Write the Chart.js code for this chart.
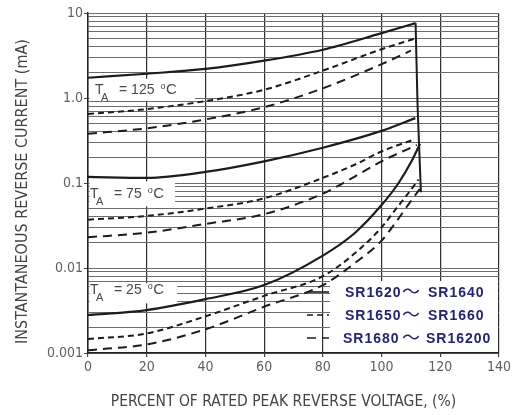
<!DOCTYPE html>
<html>
<head>
<meta charset="utf-8">
<script src="https://cdn.jsdelivr.net/npm/chart.js@4.4.1/dist/chart.umd.min.js"></script>
<style>
  html, body { margin: 0; padding: 0; background: #fff; }
  #wrap { width: 513px; height: 415px; }
</style>
</head>
<body>
<div id="wrap"><canvas id="c" width="513" height="415"></canvas></div>
<script>
// Reverse leakage current vs. percent of rated peak reverse voltage.

// --- axes ---
const xTicks = [0, 20, 40, 60, 80, 100, 120, 140];
const yDecades = [0.001, 0.01, 0.1, 1, 10];
const yTickLabels = ['0.001', '0.01', '0.1', '1.0', '10'];
const xTitle = 'PERCENT OF RATED PEAK REVERSE VOLTAGE, (%)';
const yTitle = 'INSTANTANEOUS REVERSE CURRENT (mA)';

// --- TA = 125 °C ---
const xSolid125 = [0, 20, 40, 60, 80, 100, 111.6];
const ySolid125 = [1.73, 1.93, 2.2, 2.75, 3.7, 5.8, 7.6];
const xDash125  = [0, 20, 40, 60, 80, 100, 111.4];
const yDash125  = [0.65, 0.74, 0.92, 1.25, 2.1, 3.75, 5.0];
const xLong125  = [0, 20, 40, 60, 80, 100, 110];
const yLong125  = [0.38, 0.44, 0.56, 0.78, 1.3, 2.5, 3.6];

// --- TA = 75 °C ---
const xSolid75 = [0, 20, 40, 60, 80, 100, 111.5];
const ySolid75 = [0.118, 0.115, 0.135, 0.18, 0.26, 0.41, 0.58];
const xDash75  = [0, 20, 40, 60, 80, 91, 100, 110.5];
const yDash75  = [0.037, 0.041, 0.05, 0.066, 0.115, 0.165, 0.235, 0.32];
const xLong75  = [0, 20, 40, 60, 80, 91, 100, 112];
const yLong75  = [0.023, 0.026, 0.033, 0.043, 0.075, 0.12, 0.18, 0.28];

// --- TA = 25 °C ---
const xSolid25 = [0, 20, 40, 60, 80, 91, 100, 105.8, 110.2, 113.1];
const ySolid25 = [0.0028, 0.0032, 0.0043, 0.0063, 0.014, 0.026, 0.055, 0.1, 0.18, 0.29];
const xDash25  = [0, 20, 40, 60, 80, 91, 100, 105, 109, 112.6];
const yDash25  = [0.00146, 0.0017, 0.0027, 0.0047, 0.008, 0.015, 0.03, 0.05, 0.075, 0.11];
const xLong25  = [0, 20, 40, 60, 80, 91, 100, 105, 109, 113];
const yLong25  = [0.00108, 0.00126, 0.0019, 0.0035, 0.0063, 0.0115, 0.021, 0.035, 0.055, 0.085];

// --- breakdown edge ---
const xBreak = [111.6, 112.2, 112.8, 113.4];
const yBreak = [7.6, 1.0, 0.27, 0.078];

// --- annotations ---
const tempValues = ['125', '75', '25'];
const tempAnchorX = [2.4, 0.7, 0.7];
const tempAnchorY = [1.12, 0.066, 0.0049];
const legendFrom = ['SR1620', 'SR1650', 'SR1680'];
const legendTo   = ['SR1640', 'SR1660', 'SR16200'];

const NARROW = "'Liberation Sans Narrow', 'DejaVu Sans Condensed', 'Liberation Sans', sans-serif";
const INK = '#1c1c1c';
const SOLID = [], SHORT = [6, 4], LONG = [9, 6];
const LEGEND_DASH = [SOLID, SHORT, LONG];

function series(xs, ys, dash, width) {
  return {
    data: xs.map((x, i) => ({ x, y: ys[i] })),
    borderColor: INK,
    borderWidth: width || 2,
    borderDash: dash,
    pointRadius: 0,
    fill: false,
    cubicInterpolationMode: 'monotone'
  };
}

// minor log grid: 1..9 within each decade, plus the top edge
const yGridValues = [];
for (let d = 0; d < yDecades.length - 1; d++) {
  for (let m = 1; m <= 9; m++) yGridValues.push(+(m * yDecades[d]).toPrecision(3));
}
yGridValues.push(yDecades[yDecades.length - 1]);

function decadeIndex(v) {
  return yDecades.findIndex(d => Math.abs(v - d) / d < 1e-6);
}

const annotations = {
  id: 'annotations',
  beforeDatasetsDraw(chart) {
    const { ctx, chartArea: a, scales: { x, y } } = chart;
    ctx.save();
    ctx.fillStyle = '#fff';
    // clear boxes behind the temperature captions
    const boxRight = [100, 85, 87], boxUp = [15, 17, 11], boxDown = [7, 8, 9];
    tempValues.forEach((t, i) => {
      const px = x.getPixelForValue(tempAnchorX[i]);
      const py = y.getPixelForValue(tempAnchorY[i]);
      ctx.fillRect(a.left + 1.5, py - boxUp[i], px + boxRight[i] - a.left - 1.5, boxUp[i] + boxDown[i]);
    });
    // legend panel
    ctx.fillRect(a.right - 169, a.bottom - 72, 168, 71);
    ctx.restore();
  },
  afterDatasetsDraw(chart) {
    const { ctx, chartArea: a, scales: { x, y } } = chart;
    ctx.save();
    // temperature captions: T(A) = nnn °C
    ctx.fillStyle = '#4a4a4a';
    ctx.textBaseline = 'alphabetic';
    tempValues.forEach((t, i) => {
      const px = x.getPixelForValue(tempAnchorX[i]);
      const py = y.getPixelForValue(tempAnchorY[i]);
      ctx.font = "14px 'Liberation Sans', sans-serif";
      ctx.fillText('T', px, py);
      ctx.font = "11px 'Liberation Sans', sans-serif";
      ctx.fillText('A', px + 6, py + 7);
      ctx.font = "14px 'Liberation Sans', sans-serif";
      const s = '= ' + t;
      ctx.fillText(s, px + 24, py);
      const xe = px + 24 + ctx.measureText(s).width + 6;
      ctx.font = "9px 'Liberation Sans', sans-serif";
      ctx.fillText('o', xe, py - 5);
      ctx.font = "15px 'Liberation Sans', sans-serif";
      ctx.fillText('C', xe + 5.5, py);
    });
    // legend rows
    const rowBase = [a.bottom - 56, a.bottom - 33, a.bottom - 10];
    legendFrom.forEach((f, i) => {
      const b = rowBase[i];
      ctx.strokeStyle = INK;
      ctx.lineWidth = 1.6;
      ctx.setLineDash(LEGEND_DASH[i]);
      ctx.beginPath();
      ctx.moveTo(a.right - 192, b - 5);
      ctx.lineTo(a.right - 170, b - 5);
      ctx.stroke();
      ctx.setLineDash([]);
      ctx.fillStyle = '#24246e';
      ctx.letterSpacing = '1px';
      ctx.font = "bold 14px 'Liberation Sans', sans-serif";
      const x0 = a.right - 154 - (i === 2 ? 2 : 0);
      ctx.fillText(f, x0, b);
      ctx.letterSpacing = '0px';
      ctx.font = "18px 'Noto Sans CJK JP', sans-serif";
      ctx.fillText('～', a.right - 97, b + 1);
      ctx.letterSpacing = '1px';
      ctx.font = "bold 14px 'Liberation Sans', sans-serif";
      ctx.fillText(legendTo[i], a.right - 71 - (i === 2 ? 2 : 0), b);
    });
    ctx.restore();
  },
  afterDraw(chart) {
    // axis titles
    const { ctx, chartArea: a } = chart;
    ctx.save();
    ctx.fillStyle = '#444';
    ctx.textAlign = 'center';
    ctx.textBaseline = 'middle';
    ctx.font = `15.5px ${NARROW}`;
    ctx.fillText(xTitle, a.left + 195.5, a.bottom + 49);
    ctx.translate(23, a.top + 178.5);
    ctx.rotate(-Math.PI / 2);
    ctx.font = `16px ${NARROW}`;
    ctx.fillText(yTitle, 0, 0);
    ctx.restore();
  }
};

new Chart(document.getElementById('c'), {
  type: 'line',
  data: {
    datasets: [
      series(xSolid125, ySolid125, SOLID, 2.2),
      series(xDash125, yDash125, SHORT),
      series(xLong125, yLong125, LONG),
      series(xSolid75, ySolid75, SOLID, 2.2),
      series(xDash75, yDash75, SHORT),
      series(xLong75, yLong75, LONG),
      series(xSolid25, ySolid25, SOLID, 2.2),
      series(xDash25, yDash25, SHORT),
      series(xLong25, yLong25, LONG),
      series(xBreak, yBreak, SOLID, 2)
    ]
  },
  options: {
    responsive: false,
    animation: false,
    devicePixelRatio: 1,
    layout: { padding: { top: 13, right: 12, left: 0, bottom: 0 } },
    plugins: { legend: { display: false }, tooltip: { enabled: false } },
    scales: {
      x: {
        type: 'linear',
        min: 0,
        max: 140,
        afterBuildTicks(scale) { scale.ticks = xTicks.map(v => ({ value: v })); },
        afterFit(scale) { scale.height = 62; },
        border: { display: true, color: '#222', width: 1.5 },
        grid: { color: '#2e2e2e', lineWidth: 1.2, tickLength: 4, tickColor: '#444' },
        ticks: {
          autoSkip: false, maxRotation: 0, padding: 2,
          color: '#606060',
          font: { family: NARROW, size: 14 }
        }
      },
      y: {
        type: 'logarithmic',
        min: 0.001,
        max: 10,
        afterBuildTicks(scale) { scale.ticks = yGridValues.map(v => ({ value: v })); },
        afterFit(scale) { scale.width = 88; },
        border: { display: true, color: '#222', width: 1.5 },
        grid: {
          color: '#6c6c6c', lineWidth: 1, tickLength: 4,
          tickColor: ctx => (ctx.tick && decadeIndex(ctx.tick.value) >= 0 ? '#444' : 'rgba(0,0,0,0)')
        },
        ticks: {
          autoSkip: false, padding: 1,
          color: '#606060',
          font: { family: NARROW, size: 14 },
          callback(value) {
            const i = decadeIndex(value);
            return i >= 0 ? yTickLabels[i] : '';
          }
        }
      }
    }
  },
  plugins: [annotations]
});
</script>
</body>
</html>
